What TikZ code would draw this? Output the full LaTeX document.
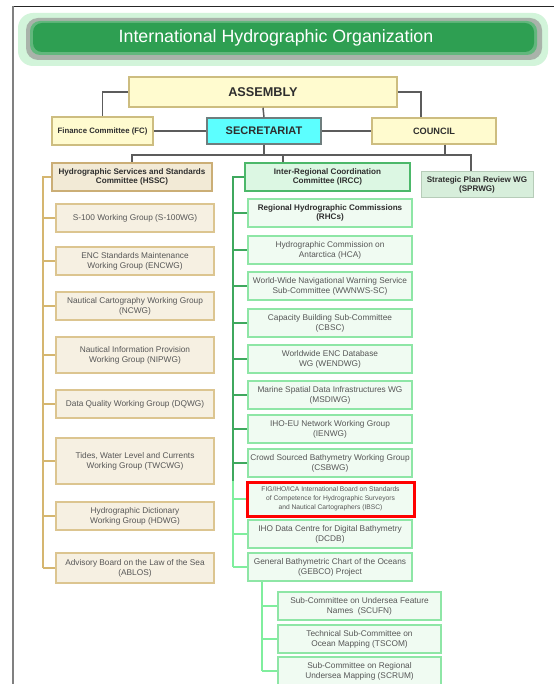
\documentclass[tikz,border=0pt]{standalone}
\usepackage{fontspec}
\setmainfont{Liberation Sans}

\definecolor{bargreen}{HTML}{2E9F52}
\definecolor{glowgreen}{HTML}{D2F4DA}
\definecolor{ringgrey}{HTML}{A9B3AA}
\definecolor{linkgrey}{HTML}{5C5C5C}
\definecolor{txtgrey}{HTML}{565656}
\definecolor{txtdark}{HTML}{2E2E2E}
\definecolor{creamfill}{HTML}{FFFBCF}
\definecolor{creamline}{HTML}{CDBD80}
\definecolor{cyanfill}{HTML}{5CFFFF}
\definecolor{cyanline}{HTML}{6E7E7E}
\definecolor{tanfill}{HTML}{F6F0E2}
\definecolor{tanline}{HTML}{DCC590}
\definecolor{tanhead}{HTML}{CBAE76}
\definecolor{tanrail}{HTML}{D5B670}
\definecolor{mintfill}{HTML}{F0FBF2}
\definecolor{mintline}{HTML}{8EE6A6}
\definecolor{greenhead}{HTML}{4CB86A}
\definecolor{greenrail}{HTML}{3FA85E}
\definecolor{lightrail}{HTML}{80EE9E}
\definecolor{sagefill}{HTML}{D7EEDB}
\definecolor{sageline}{HTML}{B6CCB8}

\begin{document}
\begin{tikzpicture}[x=1pt, y=-1pt,
    box/.style={rectangle, draw, align=center, inner sep=0pt, text=txtgrey,
      font=\fontsize{8.3}{10.2}\selectfont},
    topbox/.style={box, fill=creamfill, draw=creamline, line width=1.5pt, text=txtdark},
    tanbox/.style={box, fill=tanfill, draw=tanline, line width=1.4pt,
      minimum width=158pt},
    mintbox/.style={box, fill=mintfill, draw=mintline, line width=1.4pt},
    headfont/.style={font=\bfseries\fontsize{8.1}{9.6}\selectfont, text=txtdark},
    link/.style={draw=linkgrey, line width=1.5pt},
    tanlink/.style={draw=tanrail, line width=1.5pt},
    greenlink/.style={draw=greenrail, line width=1.5pt},
    lightlink/.style={draw=lightrail, line width=1.5pt}]
    \useasboundingbox (0,0) rectangle (554,684);
    \fill[white] (0,0) rectangle (554,684);
    % frame
    \draw[black!85, line width=0.8pt] (12,6) -- (554,6);
    \draw[gray, line width=2pt] (12.5,6) -- (12.5,684);
    % title banner
    \fill[glowgreen, rounded corners=15pt] (18,13) rectangle (548,66);
    \fill[ringgrey, rounded corners=12pt] (26,18) rectangle (542,60);
    \fill[bargreen!75!white, rounded corners=10pt] (30,21) rectangle (537,55);
    \fill[bargreen, rounded corners=9pt] (33,23) rectangle (534,52);
    \node[text=white, font=\fontsize{17.8}{20}\selectfont] (title) at (276,37.5) {International Hydrographic Organization};

    % top level
    \node[topbox, font=\bfseries\fontsize{12.7}{14}\selectfont, minimum width=268pt, minimum height=30pt] (assembly) at (263,92) {ASSEMBLY};
    \node[topbox, font=\bfseries\fontsize{7.8}{9}\selectfont, minimum width=101pt, minimum height=28pt] (fc) at (102.5,131) {Finance Committee (FC)};
    \node[box, fill=cyanfill, draw=cyanline, line width=1.5pt, text=txtdark, font=\bfseries\fontsize{11}{12}\selectfont, minimum width=114pt, minimum height=26pt] (secretariat) at (264,131) {SECRETARIAT};
    \node[topbox, font=\bfseries\fontsize{9.2}{11}\selectfont, minimum width=124pt, minimum height=26pt] (council) at (434,131) {COUNCIL};
    \node[box, fill=sagefill, draw=sageline, line width=1pt, headfont, minimum width=112pt, minimum height=26pt] (sprwg) at (477,185) {Strategic Plan Review WG\\(SPRWG)};

    \coordinate (bus) at (0,155);
    \draw[link] (assembly.west) -| (fc.north);
    \draw[link] (assembly.east) -| ([xshift=-13pt]council.north);
    \draw[link] (assembly.south) -- (secretariat.north);
    \draw[link] (secretariat.west) -- (fc.east);
    \draw[link] (secretariat.east) -- (council.west);
    \draw[link] (secretariat.south) -- (secretariat.south |- bus);
    \draw[link] ([xshift=11pt]council.south) -- ([xshift=11pt]council.south |- bus);

    % committees
    \node[box, fill=tanfill!85!tanline, draw=tanhead, line width=2pt, headfont, minimum width=160pt, minimum height=28pt] (hssc) at (132,177) {Hydrographic Services and Standards\\Committee (HSSC)};
    \node[box, fill=mintfill!80!mintline, draw=greenhead, line width=2pt, headfont, minimum width=165pt, minimum height=28pt] (ircc) at (327.5,177) {Inter-Regional Coordination\\Committee (IRCC)};

    \draw[link] (hssc.north) |- ([xshift=-6pt]sprwg.north |- bus) -- ([xshift=-6pt]sprwg.north);
    \draw[link] ([xshift=-44.5pt]ircc.north) -- ([xshift=-44.5pt]ircc.north |- bus);

    % HSSC working groups
    \foreach \n/\y/\h/\t in {
        s100/218/28/{S-100 Working Group (S-100WG)},
        encwg/261/28/{ENC Standards Maintenance\\Working Group (ENCWG)},
        ncwg/306/28/{Nautical Cartography Working Group\\(NCWG)},
        nipwg/355/36/{Nautical Information Provision\\Working Group (NIPWG)},
        dqwg/404/28/{Data Quality Working Group (DQWG)},
        twcwg/461/46/{Tides, Water Level and Currents\\Working Group (TWCWG)},
        hdwg/516/28/{Hydrographic Dictionary\\Working Group (HDWG)},
        ablos/568/30/{Advisory Board on the Law of the Sea\\(ABLOS)}}
      \node[tanbox, minimum height=\h pt] (\n) at (135,\y) {\t};

    \coordinate (hsscrail) at (43,0);
    \draw[tanlink] (hssc.west) -- (hssc.west -| hsscrail) -- (hsscrail |- ablos.west);
    \foreach \n in {s100,encwg,ncwg,nipwg,dqwg,twcwg,hdwg,ablos}
      \draw[tanlink] (hsscrail |- \n.west) -- (\n.west);

    % IRCC bodies
    \node[mintbox, headfont, minimum width=164pt, minimum height=28pt] (rhc) at (330,213) {Regional Hydrographic Commissions\\(RHCs)};
    \foreach \n/\y/\h/\t in {
        hca/250/28/{Hydrographic Commission on\\Antarctica (HCA)},
        wwnws/286/28/{World-Wide Navigational Warning Service\\Sub-Committee (WWNWS-SC)},
        cbsc/323/28/{Capacity Building Sub-Committee\\(CBSC)},
        wendwg/359/28/{Worldwide ENC Database\\WG (WENDWG)},
        msdiwg/395/28/{Marine Spatial Data Infrastructures WG\\(MSDIWG)},
        ienwg/429/28/{IHO-EU Network Working Group\\(IENWG)},
        csbwg/463/28/{Crowd Sourced Bathymetry Working Group\\(CSBWG)},
        dcdb/534/28/{IHO Data Centre for Digital Bathymetry\\(DCDB)},
        gebco/567/28/{General Bathymetric Chart of the Oceans\\(GEBCO) Project}}
      \node[mintbox, minimum width=164pt, minimum height=\h pt] (\n) at (330,\y) {\t};
    \node[box, fill=mintfill, draw=red, line width=3pt, font=\fontsize{6.7}{9}\selectfont, minimum width=167pt, minimum height=34pt] (ibsc) at (330.5,499) {FIG/IHO/ICA International Board on Standards\\of Competence for Hydrographic Surveyors\\and Nautical Cartographers (IBSC)};

    \coordinate (irccrail) at (233,0);
    \draw[greenlink] (ircc.west) -- (ircc.west -| irccrail) -- (irccrail |- ibsc.north);
    \draw[lightlink] (irccrail |- ibsc.north) -- (irccrail |- gebco.west);
    \foreach \n in {rhc,hca,wwnws,cbsc,wendwg,msdiwg,ienwg,csbwg}
      \draw[greenlink] (irccrail |- \n.west) -- (\n.west);
    \foreach \n in {ibsc,dcdb,gebco}
      \draw[lightlink] (irccrail |- \n.west) -- (\n.west);

    % GEBCO sub-committees
    \foreach \n/\y/\t in {
        scufn/606/{Sub-Committee on Undersea Feature\\Names~~(SCUFN)},
        tscom/639/{Technical Sub-Committee on\\Ocean Mapping (TSCOM)},
        scrum/671/{Sub-Committee on Regional\\Undersea Mapping (SCRUM)}}
      \node[mintbox, minimum width=163pt, minimum height=28pt] (\n) at (359.5,\y) {\t};

    \coordinate (gebcorail) at (262,0);
    \draw[lightlink] (gebco.south -| gebcorail) -- (gebcorail |- scrum.west);
    \foreach \n in {scufn,tscom,scrum}
      \draw[lightlink] (gebcorail |- \n.west) -- (\n.west);
\end{tikzpicture}
\end{document}
